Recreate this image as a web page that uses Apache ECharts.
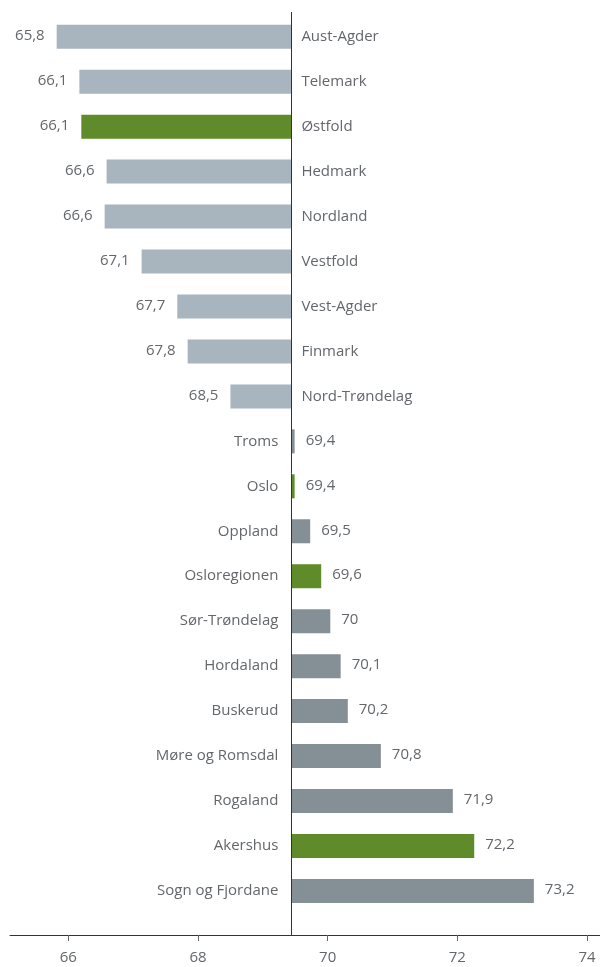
<!DOCTYPE html>
<html>
<head>
<meta charset="utf-8">
<script src="https://cdn.jsdelivr.net/npm/echarts@6/dist/echarts.min.js"></script>
<style>
html,body{margin:0;padding:0;background:#fff;}
#chart{width:600px;height:967px;}
</style>
</head>
<body>
<div id="chart"></div>
<script>
// Categories, top to bottom
const categories = ['Aust-Agder','Telemark','Østfold','Hedmark','Nordland','Vestfold','Vest-Agder','Finmark','Nord-Trøndelag','Troms','Oslo','Oppland','Osloregionen','Sør-Trøndelag','Hordaland','Buskerud','Møre og Romsdal','Rogaland','Akershus','Sogn og Fjordane'];
// Bar end values
const barValues = [65.82, 66.17, 66.2, 66.59, 66.56, 67.13, 67.68, 67.84, 68.5, 69.49, 69.49, 69.73, 69.9, 70.04, 70.2, 70.31, 70.82, 71.93, 72.26, 73.18];
// Value labels as printed
const valueLabels = ['65,8','66,1','66,1','66,6','66,6','67,1','67,7','67,8','68,5','69,4','69,4','69,5','69,6','70','70,1','70,2','70,8','71,9','72,2','73,2'];
const highlighted = ['Østfold','Oslo','Osloregionen','Akershus'];
const baseline = 69.44;
const tickValues = [66, 68, 70, 72, 74];

const FONT = '"Open Sans", sans-serif';
const TEXT = '#63676b';
const FS = 15;
const C_LOW = '#a8b5bf', C_HIGH = '#848f96', C_GREEN = '#5f8b2a';

const data = categories.map((c, i) => [barValues[i], i]);

const chart = echarts.init(document.getElementById('chart'), null, {renderer: 'canvas'});
chart.setOption({
  animation: false,
  grid: {left: 10, right: 0, top: 12, bottom: 32},
  xAxis: {
    type: 'value', min: 65.1, max: 74.2,
    splitLine: {show: false},
    axisLine: {show: true, onZero: false, lineStyle: {color: '#333', width: 1}},
    axisTick: {show: true, customValues: tickValues, length: 6, lineStyle: {color: '#666'}},
    axisLabel: {customValues: tickValues, color: TEXT, fontSize: FS, fontFamily: FONT, margin: 15}
  },
  yAxis: {
    type: 'value', min: -0.55, max: 19.98, inverse: true, show: false
  },
  series: [{
    type: 'custom',
    data: data,
    encode: {x: 0, y: 1},
    renderItem: function (params, api) {
      const i = api.value(1);
      const v = api.value(0);
      const pEnd = api.coord([v, i]);
      const pBase = api.coord([baseline, i]);
      const h = 24;
      const below = v < baseline;
      const name = categories[i];
      const color = highlighted.indexOf(name) >= 0 ? C_GREEN : (below ? C_LOW : C_HIGH);
      const x0 = Math.min(pEnd[0], pBase[0]);
      const w = Math.abs(pEnd[0] - pBase[0]);
      const cy = pBase[1];
      return {
        type: 'group',
        children: [
          {type: 'rect', shape: {x: x0, y: cy - h / 2, width: w, height: h}, style: {fill: color}},
          {type: 'text', style: {
            x: below ? pEnd[0] - 12 : pEnd[0] + 11, y: cy - 1,
            text: valueLabels[i], align: below ? 'right' : 'left', verticalAlign: 'middle',
            fill: TEXT, fontSize: FS, fontFamily: FONT}},
          {type: 'text', style: {
            x: below ? pBase[0] + 10 : pBase[0] - 13, y: cy,
            text: name, align: below ? 'left' : 'right', verticalAlign: 'middle',
            fill: TEXT, fontSize: FS, fontFamily: FONT}}
        ]
      };
    },
    markLine: {
      silent: true, symbol: 'none', label: {show: false},
      lineStyle: {color: '#333', width: 1, type: 'solid'},
      data: [{xAxis: baseline}]
    }
  }]
});
</script>
</body>
</html>
